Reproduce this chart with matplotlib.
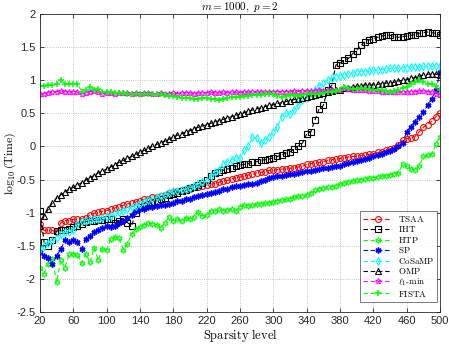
import numpy as np
import matplotlib
matplotlib.use("Agg")
import matplotlib.pyplot as plt

plt.rcParams['mathtext.fontset'] = 'cm'
plt.rcParams['axes.unicode_minus'] = False

sparsity = list(range(20, 501, 5))

tsaa = [-1.17, -1.27, -1.26, -1.27, -1.30, -1.15, -1.12, -1.12, -1.10, -1.10,
        -1.09, -1.08, -1.03, -1.01, -0.99, -0.98, -0.97, -0.94, -0.93, -0.91,
        -0.89, -0.87, -0.85, -0.84, -0.82, -0.80, -0.79, -0.77, -0.76, -0.75,
        -0.73, -0.71, -0.69, -0.68, -0.66, -0.65, -0.64, -0.62, -0.61, -0.59,
        -0.58, -0.57, -0.56, -0.54, -0.52, -0.51, -0.49, -0.47, -0.46, -0.45,
        -0.43, -0.42, -0.40, -0.39, -0.38, -0.36, -0.36, -0.35, -0.34, -0.34,
        -0.33, -0.32, -0.31, -0.30, -0.27, -0.26, -0.25, -0.24, -0.23, -0.21,
        -0.20, -0.19, -0.18, -0.17, -0.16, -0.15, -0.15, -0.14, -0.13, -0.12,
        -0.11, -0.09, -0.08, -0.06, -0.04, -0.02, 0.02, 0.10, 0.12, 0.13,
        0.15, 0.22, 0.29, 0.33, 0.38, 0.45, 0.50]

iht = [-0.97, -1.45, -1.50, -1.42, -1.28, -1.27, -1.27, -1.25, -1.22, -1.20,
       -1.17, -1.14, -1.12, -1.12, -1.11, -1.11, -1.10, -1.10, -1.16, -1.12,
       -1.10, -1.15, -1.20, -1.00, -0.92, -0.90, -0.87, -0.84, -0.82, -0.80,
       -0.78, -0.74, -0.72, -0.70, -0.68, -0.66, -0.63, -0.62, -0.58, -0.55,
       -0.50, -0.44, -0.40, -0.38, -0.36, -0.34, -0.33, -0.30, -0.28, -0.27,
       -0.26, -0.24, -0.23, -0.21, -0.20, -0.19, -0.17, -0.15, -0.13, -0.10,
       -0.08, -0.04, 0.01, 0.05, 0.19, 0.22, 0.40, 0.57, 0.62, 0.86,
       0.92, 1.23, 1.26, 1.30, 1.33, 1.40, 1.45, 1.53, 1.58, 1.61,
       1.63, 1.65, 1.67, 1.68, 1.68, 1.66, 1.65, 1.66, 1.67, 1.68,
       1.69, 1.71, 1.72, 1.73, 1.72, 1.71, 1.68]

htp = [-1.83, -1.92, -1.78, -1.70, -2.05, -1.72, -1.83, -1.63, -1.62, -1.64,
       -1.76, -1.62, -1.75, -1.53, -1.72, -1.55, -1.56, -1.40, -1.37, -1.38,
       -1.56, -1.47, -1.33, -1.25, -1.22, -1.18, -1.16, -1.17, -1.18, -1.23,
       -1.15, -1.07, -1.12, -1.10, -1.12, -1.08, -1.10, -1.06, -0.99, -1.05,
       -1.03, -0.98, -0.97, -0.95, -0.97, -0.96, -0.95, -0.97, -0.91, -0.89,
       -0.90, -0.88, -0.87, -0.87, -0.86, -0.85, -0.84, -0.82, -0.81, -0.80,
       -0.79, -0.77, -0.75, -0.75, -0.73, -0.70, -0.66, -0.64, -0.63, -0.62,
       -0.61, -0.59, -0.57, -0.55, -0.53, -0.52, -0.51, -0.50, -0.49, -0.48,
       -0.47, -0.46, -0.45, -0.44, -0.43, -0.41, -0.40, -0.27, -0.30, -0.34,
       -0.35, -0.30, -0.15, -0.13, -0.12, 0.03, 0.15]

sp = [-1.60, -1.65, -1.68, -1.78, -1.65, -1.55, -1.42, -1.44, -1.42, -1.45,
      -1.55, -1.40, -1.35, -1.30, -1.26, -1.23, -1.20, -1.22, -1.20, -1.15,
      -1.12, -1.08, -1.03, -0.98, -0.95, -0.94, -0.92, -0.91, -0.90, -0.89,
      -0.88, -0.87, -0.85, -0.83, -0.82, -0.80, -0.79, -0.77, -0.75, -0.74,
      -0.72, -0.71, -0.69, -0.67, -0.65, -0.64, -0.62, -0.60, -0.59, -0.58,
      -0.57, -0.56, -0.55, -0.52, -0.50, -0.47, -0.46, -0.45, -0.44, -0.43,
      -0.42, -0.41, -0.40, -0.39, -0.37, -0.37, -0.35, -0.34, -0.33, -0.32,
      -0.31, -0.30, -0.29, -0.27, -0.25, -0.23, -0.22, -0.21, -0.19, -0.17,
      -0.15, -0.13, -0.11, -0.09, -0.07, -0.04, 0.01, 0.05, 0.22, 0.30,
      0.37, 0.45, 0.52, 0.62, 0.72, 0.85, 1.12]

cosamp = [-1.55, -1.50, -1.46, -1.43, -1.38, -1.33, -1.30, -1.30, -1.27, -1.17,
          -1.13, -1.12, -1.11, -1.10, -1.10, -1.08, -1.06, -1.05, -1.01, -0.99,
          -0.97, -0.95, -0.92, -0.90, -0.87, -0.84, -0.81, -0.79, -0.77, -0.75,
          -0.73, -0.70, -0.68, -0.67, -0.66, -0.65, -0.63, -0.60, -0.57, -0.54,
          -0.52, -0.45, -0.38, -0.36, -0.26, -0.23, -0.20, -0.17, -0.18, -0.05,
          0.00, 0.14, 0.13, 0.05, 0.10, 0.14, 0.22, 0.30, 0.45, 0.50,
          0.49, 0.55, 0.63, 0.70, 0.74, 0.81, 0.86, 0.92, 0.96, 1.00,
          1.03, 1.05, 1.07, 1.08, 1.10, 1.11, 1.12, 1.13, 1.13, 1.14,
          1.15, 1.15, 1.16, 1.17, 1.18, 1.18, 1.18, 1.19, 1.19, 1.20,
          1.20, 1.20, 1.21, 1.21, 1.21, 1.22, 1.22]

omp = [-1.20, -1.05, -0.95, -0.85, -0.78, -0.73, -0.69, -0.65, -0.62, -0.58,
       -0.55, -0.51, -0.47, -0.44, -0.40, -0.37, -0.34, -0.31, -0.28, -0.24,
       -0.21, -0.18, -0.15, -0.12, -0.09, -0.06, -0.03, 0.00, 0.03, 0.06,
       0.08, 0.11, 0.14, 0.17, 0.19, 0.22, 0.24, 0.27, 0.29, 0.31,
       0.33, 0.35, 0.37, 0.39, 0.41, 0.43, 0.45, 0.47, 0.49, 0.51,
       0.53, 0.55, 0.57, 0.58, 0.60, 0.62, 0.63, 0.65, 0.66, 0.68,
       0.69, 0.71, 0.72, 0.74, 0.75, 0.77, 0.78, 0.80, 0.81, 0.82,
       0.84, 0.85, 0.86, 0.88, 0.89, 0.90, 0.91, 0.92, 0.93, 0.93,
       0.93, 0.94, 0.95, 0.96, 0.96, 0.97, 0.99, 1.00, 1.01, 1.03,
       1.04, 1.06, 1.08, 1.09, 1.10, 1.09, 1.08]

l1min = [0.80, 0.80, 0.81, 0.82, 0.83, 0.84, 0.83, 0.82, 0.83, 0.82,
         0.80, 0.81, 0.83, 0.84, 0.82, 0.80, 0.81, 0.81, 0.80, 0.81,
         0.81, 0.81, 0.80, 0.81, 0.80, 0.81, 0.81, 0.80, 0.80, 0.81,
         0.80, 0.80, 0.81, 0.80, 0.81, 0.81, 0.81, 0.80, 0.81, 0.81,
         0.81, 0.82, 0.81, 0.81, 0.82, 0.81, 0.82, 0.82, 0.81, 0.82,
         0.82, 0.82, 0.82, 0.83, 0.82, 0.82, 0.83, 0.83, 0.83, 0.83,
         0.83, 0.84, 0.83, 0.84, 0.84, 0.84, 0.84, 0.85, 0.84, 0.85,
         0.85, 0.85, 0.86, 0.88, 0.87, 0.86, 0.86, 0.85, 0.85, 0.84,
         0.84, 0.84, 0.83, 0.83, 0.83, 0.82, 0.82, 0.82, 0.82, 0.83,
         0.83, 0.84, 0.84, 0.83, 0.82, 0.80, 0.78]

fista = [0.92, 0.92, 0.93, 0.93, 0.95, 1.00, 0.95, 0.94, 0.94, 0.95,
         0.83, 0.86, 0.90, 0.86, 0.87, 0.83, 0.82, 0.82, 0.81, 0.81,
         0.81, 0.80, 0.80, 0.80, 0.80, 0.80, 0.79, 0.79, 0.79, 0.79,
         0.78, 0.77, 0.76, 0.75, 0.73, 0.73, 0.73, 0.72, 0.72, 0.73,
         0.74, 0.72, 0.71, 0.70, 0.71, 0.73, 0.75, 0.75, 0.75, 0.76,
         0.77, 0.78, 0.78, 0.78, 0.79, 0.80, 0.79, 0.77, 0.75, 0.77,
         0.78, 0.78, 0.77, 0.78, 0.79, 0.80, 0.79, 0.80, 0.81, 0.82,
         0.83, 0.84, 0.86, 0.90, 0.88, 0.87, 0.87, 0.88, 0.87, 0.87,
         0.86, 0.85, 0.85, 0.84, 0.83, 0.84, 0.86, 0.88, 0.90, 0.94,
         0.97, 1.00, 0.98, 0.95, 0.94, 0.92, 0.85]

labels = [r'$\mathrm{TSAA}$', r'$\mathrm{IHT}$', r'$\mathrm{HTP}$', r'$\mathrm{SP}$',
          r'$\mathrm{CoSaMP}$', r'$\mathrm{OMP}$', r'$\ell_1\mathrm{\text{-}min}$', r'$\mathrm{FISTA}$']
xticks = [20, 60, 100, 140, 180, 220, 260, 300, 340, 380, 420, 460, 500]
yticks = [-2.5, -2, -1.5, -1, -0.5, 0, 0.5, 1, 1.5, 2]
ytick_labels = ['-2.5', '-2', '-1.5', '-1', '-0.5', '0', '0.5', '1', '1.5', '2']

series = [tsaa, iht, htp, sp, cosamp, omp, l1min, fista]
colors = ['#ff0000', '#000000', '#00ff00', '#0000ff', '#00ffff', '#000000', '#ff00ff', '#00ff00']
markers = ['o', 's', (6, 1, 0), (6, 2, 0), 'd', '^', (5, 1, 0), '+']
filled = [False, False, False, True, False, False, False, True]

fig = plt.figure(figsize=(4.49, 3.45), dpi=100)
ax = fig.add_axes([0.089, 0.096, 0.891, 0.863])

for ys, c, m, lab, f in zip(series, colors, markers, labels, filled):
    kw = dict(color=c, linestyle='--', linewidth=0.8, marker=m, markersize=4.2,
              markeredgewidth=0.8, label=lab, dashes=(4, 2.5))
    if not f:
        kw['markerfacecolor'] = 'none'
    else:
        kw['markeredgewidth'] = 1.1
    ax.plot(sparsity, ys, **kw)

ax.set_xlim(20, 500)
ax.set_ylim(-2.5, 2)
ax.set_xticks(xticks)
ax.set_xticklabels([str(v) for v in xticks])
ax.set_yticks(yticks)
ax.set_yticklabels(ytick_labels)
ax.tick_params(direction='in', length=3, width=0.6, labelsize=8, colors='#262626',
               top=True, right=True, pad=3)
for lab in ax.get_xticklabels() + ax.get_yticklabels():
    lab.set_fontfamily('Liberation Sans')
ax.grid(True, linestyle=':', linewidth=0.6, color='#b0b0b0')
for s in ax.spines.values():
    s.set_linewidth(0.6)
    s.set_color('#262626')

ax.set_title(r'$m = 1000,\ p = 2$', fontsize=8, pad=3)
ax.set_xlabel(r'$\mathrm{Sparsity\ level}$', fontsize=9, labelpad=1)
ax.set_ylabel(r'$\log_{10}(\mathrm{Time})$', fontsize=8.5, labelpad=0)
ax.yaxis.set_label_coords(-0.055, 0.5)

leg = ax.legend(loc='lower right', prop={'size': 6.5},
                frameon=True, fancybox=False, edgecolor='#404040', borderpad=0.35,
                labelspacing=0.05, handlelength=3.2, handletextpad=0.6,
                borderaxespad=0.0, bbox_to_anchor=(0.993, 0.034))
leg.get_frame().set_linewidth(0.6)

fig.savefig('out.png', dpi=100)
